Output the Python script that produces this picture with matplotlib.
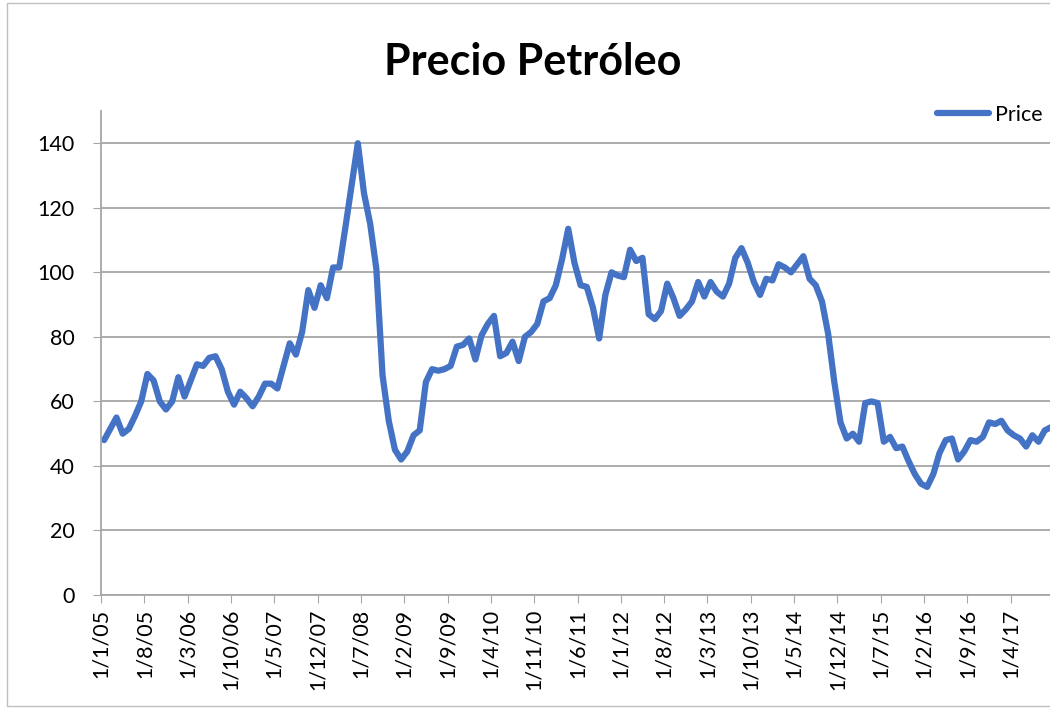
import matplotlib
matplotlib.use("Agg")
import matplotlib.pyplot as plt
from matplotlib.patches import Rectangle

# Monthly price, Jan 2005 - Oct 2017
price = [
    48, 51.5, 55, 50, 51.5, 55.5, 60, 68.5, 66.5, 60, 57.5, 60,          # 2005
    67.5, 61.5, 66.5, 71.5, 71, 73.5, 74, 70, 63, 59, 63, 61,            # 2006
    58.5, 61.5, 65.5, 65.5, 64, 71, 78, 74.5, 81.5, 94.5, 89, 96,        # 2007
    92, 101.5, 101.5, 114, 127, 140, 124.5, 115, 101, 68, 54, 45,        # 2008
    42, 44.5, 49.5, 51, 66, 70, 69.5, 70, 71, 77, 77.5, 79.5,            # 2009
    73, 80.5, 84, 86.5, 74, 75, 78.5, 72.5, 80, 81.5, 84, 91,            # 2010
    92, 96, 104, 113.5, 103, 96, 95.5, 89, 79.5, 93, 100, 99,            # 2011
    98.5, 107, 103.5, 104.5, 87, 85.5, 88, 96.5, 92, 86.5, 88.5, 91,     # 2012
    97, 92.5, 97, 94, 92.5, 96.5, 104.5, 107.5, 103, 97, 93, 98,         # 2013
    97.5, 102.5, 101.5, 100, 102.5, 105, 98, 96, 91, 81, 66, 53.5,       # 2014
    48.5, 50, 47.5, 59.5, 60, 59.5, 47.5, 49, 45.5, 46, 41.5, 37.5,      # 2015
    34.5, 33.5, 37.5, 44, 48, 48.5, 42, 44.5, 48, 47.5, 49, 53.5,        # 2016
    53, 54, 51, 49.5, 48.5, 46, 49.5, 47.5, 51, 52,                      # 2017
]

# tick labels every 7 months, d/m/yy
tick_labels = ["1/1/05", "1/8/05", "1/3/06", "1/10/06", "1/5/07", "1/12/07",
               "1/7/08", "1/2/09", "1/9/09", "1/4/10", "1/11/10", "1/6/11",
               "1/1/12", "1/8/12", "1/3/13", "1/10/13", "1/5/14", "1/12/14",
               "1/7/15", "1/2/16", "1/9/16", "1/4/17"]

plt.rcParams['font.family'] = ['Lato', 'DejaVu Sans']

fig = plt.figure(figsize=(10.5, 7.09), dpi=100)
ax = fig.add_axes([101 / 1050, 1 - 595 / 709, 953 / 1050, 484 / 709])

months = list(range(len(price)))
ax.plot(months, price, color="#4472C4", lw=4.5, solid_joinstyle="round",
        solid_capstyle="round", label="Price", clip_on=False)

ax.set_xlim(-0.5, len(price) - 0.5)
ax.set_ylim(0, 150)
ax.set_yticks(range(0, 141, 20))
ax.set_xticks([i * 7 - 0.5 for i in range(len(tick_labels))])
ax.set_xticklabels(tick_labels, rotation=90, fontsize=15.5)
ax.tick_params(axis="y", labelsize=15.5, length=6, color="#A6A6A6", pad=13)
ax.tick_params(axis="x", length=6, color="#A6A6A6", pad=4)

ax.grid(axis="y", color="#A6A6A6", lw=1.3)
ax.set_axisbelow(True)
for side in ["top", "right"]:
    ax.spines[side].set_visible(False)
for side in ["left", "bottom"]:
    ax.spines[side].set_color("#A6A6A6")
    ax.spines[side].set_linewidth(1.3)

fig.text(533 / 1050, 1 - 62 / 709, "Precio Petróleo", ha="center", va="center",
         fontsize=31, fontweight="bold")

fig.legend(loc="center left", bbox_to_anchor=(937 / 1050, 1 - 115 / 709),
           frameon=False, fontsize=15.5, handlelength=2.4, handletextpad=0.3,
           borderpad=0, borderaxespad=0)

# outer chart border
fig.patches.append(Rectangle((7 / 1050, 3 / 709), 1.1, 1 - 6 / 709,
                             transform=fig.transFigure, fill=False,
                             edgecolor="#BFBFBF", lw=1))

plt.savefig("out.png", dpi=100)
